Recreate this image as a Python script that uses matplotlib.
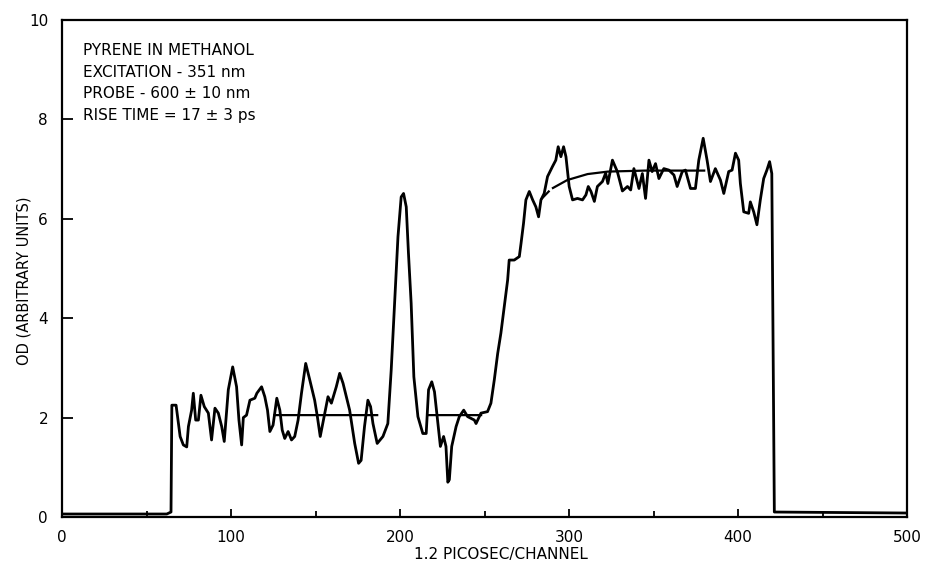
import numpy as np
import matplotlib
matplotlib.use("Agg")
import matplotlib.pyplot as plt
from matplotlib.ticker import MultipleLocator

# ==================================
# DATA
# ==================================

channel = [
    0, 62, 64.5, 65, 67.5, 69.9, 71.8, 73.8, 74.8, 76.7, 77.7, 79.1, 80.7,
    82.2, 84.2, 86.6, 88.5, 90.5, 92.5, 94.5, 96.0, 98.4, 101.0, 103.3,
    104.7, 106.3, 107.3, 109.2, 111.2, 114.1, 115.3, 118.1, 120.0, 121.6,
    123.0, 124.9, 127.1, 128.9, 130.3, 131.8, 133.8, 135.8, 137.7, 139.7,
    141.7, 144.2, 146.6, 149.5, 151.1, 152.8, 155.0, 157.4, 159.4, 162.3,
    164.3, 166.3, 170.2, 173.2, 175.5, 177.0, 179.0, 181.0, 182.6, 184.0,
    186.5, 189.9, 192.8, 194.8, 196.8, 198.8, 200.7, 202.1, 203.7, 205.0,
    206.6, 208.2, 210.6, 213.5, 215.5, 216.9, 218.8, 220.4, 222.4, 223.9,
    225.8, 227.2, 228.3, 229.2, 230.6, 233.2, 235.1, 237.7, 240.0, 244.0,
    245.0, 247.9, 251.8, 253.8, 255.8, 257.8, 259.7, 261.7, 263.7, 264.6,
    267.6, 270.6, 271.6, 273.1, 274.5, 276.5, 278.5, 280.4, 282.0, 283.4,
    285.3, 287.3, 290.2, 292.2, 293.6, 295.2, 296.8, 298.2, 300.1, 302.1,
    305.0, 308.0, 310.0, 311.4, 313.0, 315.0, 316.8, 319.8, 321.7, 323.0,
    325.7, 328.6, 331.6, 334.6, 336.5, 338.4, 341.4, 343.4, 345.3, 347.3,
    349.2, 351.2, 353.2, 356.1, 359.1, 362.1, 364.0, 367.0, 368.9, 371.9,
    374.8, 376.8, 379.4, 381.7, 383.7, 386.6, 389.6, 391.6, 394.5, 396.5,
    398.5, 400.4, 401.4, 403.4, 406.3, 407.3, 409.3, 411.2, 413.2, 415.2,
    417.1, 418.7, 420.0, 421.5, 500
]

od = [
    0.06, 0.06, 0.10, 2.25, 2.25, 1.62, 1.45, 1.41, 1.82, 2.15, 2.49, 1.95,
    1.95, 2.45, 2.22, 2.09, 1.55, 2.19, 2.09, 1.82, 1.52, 2.56, 3.02, 2.62,
    1.95, 1.45, 2.00, 2.05, 2.35, 2.39, 2.49, 2.62, 2.42, 2.15, 1.72, 1.85,
    2.39, 2.15, 1.75, 1.58, 1.72, 1.55, 1.62, 1.95, 2.49, 3.09, 2.76, 2.35,
    2.02, 1.62, 2.00, 2.42, 2.29, 2.62, 2.89, 2.69, 2.15, 1.48, 1.08, 1.14,
    1.82, 2.35, 2.22, 1.88, 1.48, 1.62, 1.88, 2.96, 4.30, 5.64, 6.44, 6.51,
    6.24, 5.31, 4.30, 2.82, 2.02, 1.68, 1.68, 2.56, 2.72, 2.52, 1.88, 1.42,
    1.62, 1.42, 0.70, 0.75, 1.42, 1.82, 2.02, 2.15, 2.02, 1.95, 1.88, 2.09,
    2.12, 2.29, 2.76, 3.29, 3.70, 4.23, 4.77, 5.17, 5.17, 5.24, 5.50, 5.91,
    6.38, 6.55, 6.38, 6.24, 6.04, 6.38, 6.51, 6.85, 7.05, 7.18, 7.45, 7.25,
    7.45, 7.25, 6.65, 6.38, 6.41, 6.38, 6.48, 6.65, 6.55, 6.35, 6.65, 6.75,
    6.92, 6.71, 7.18, 6.95, 6.56, 6.65, 6.58, 7.01, 6.61, 6.91, 6.41, 7.18,
    6.95, 7.11, 6.81, 7.01, 6.98, 6.88, 6.65, 6.95, 6.98, 6.61, 6.61, 7.18,
    7.62, 7.18, 6.75, 7.01, 6.78, 6.51, 6.95, 6.98, 7.32, 7.18, 6.71, 6.14,
    6.11, 6.34, 6.14, 5.88, 6.38, 6.81, 6.98, 7.15, 6.91, 0.10, 0.08
]

# fitted curve, NaN marks the breaks between drawn pieces
fit_channel = [125.7, 186.5, np.nan, 216.5, 248.0, np.nan,
               284.0, 288.0, np.nan, 290.5, 299.0, 311.0, 323.0, 345.0, 380.0]
fit_od = [2.05, 2.05, np.nan, 2.05, 2.05, np.nan,
          6.41, 6.55, np.nan, 6.62, 6.78, 6.90, 6.95, 6.97, 6.97]

annotation = [
    "PYRENE IN METHANOL",
    "EXCITATION - 351 nm",
    "PROBE - 600 ± 10 nm",
    "RISE TIME = 17 ± 3 ps",
]

# ==================================
# FIGURE
# ==================================

W, H = 927, 562
fig = plt.figure(figsize=(W / 100, H / 100), dpi=100)
ax = fig.add_axes([62 / W, 1 - 517 / H, (907 - 62) / W, (517 - 20) / H])

ax.plot(channel, od, color="black", linewidth=2.0, solid_joinstyle="round")
ax.plot(fit_channel, fit_od, color="black", linewidth=1.6)

ax.set_xlim(0, 500)
ax.set_ylim(0, 10)

ax.xaxis.set_major_locator(MultipleLocator(100))
ax.xaxis.set_minor_locator(MultipleLocator(50))
ax.yaxis.set_major_locator(MultipleLocator(2))

ax.tick_params(axis="both", which="both", direction="in", width=1.3,
               labelsize=11, top=False, right=False)
ax.tick_params(axis="y", which="major", length=8, pad=10)
ax.tick_params(axis="x", which="major", length=6, pad=9)
ax.tick_params(axis="x", which="minor", length=4)

for spine in ax.spines.values():
    spine.set_linewidth(1.6)

ax.set_ylabel("OD (ARBITRARY UNITS)", fontsize=10.5)
ax.yaxis.set_label_coords(-0.036, 0.475)

fig.text(501 / W, 1 - 555 / H, "1.2 PICOSEC/CHANNEL", fontsize=11,
         ha="center", va="center")

for i, line in enumerate(annotation):
    fig.text(83 / W, 1 - (55 + 21.7 * i) / H, line, fontsize=11,
             ha="left", va="baseline")

fig.savefig("out.png", dpi=100)
